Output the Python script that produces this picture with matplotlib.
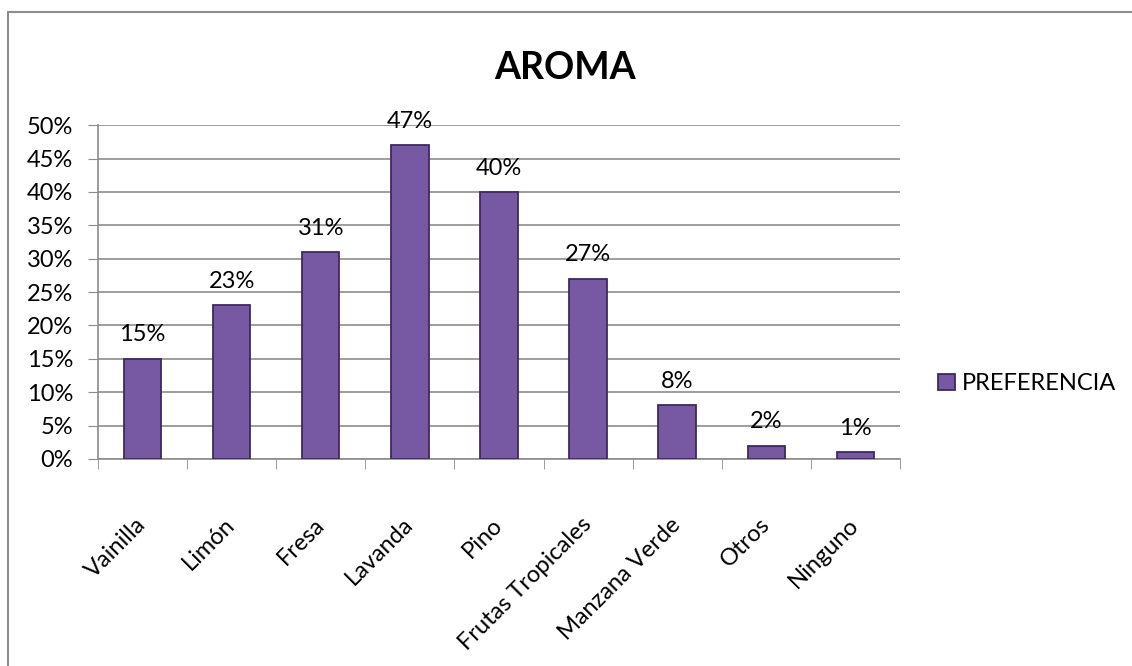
import numpy as np
from matplotlib import pyplot as plt
from matplotlib.patches import Rectangle

categories = ["Vainilla", "Limón", "Fresa", "Lavanda", "Pino",
              "Frutas Tropicales", "Manzana Verde", "Otros", "Ninguno"]
values = [15, 23, 31, 47, 40, 27, 8, 2, 1]
yticks = [0, 5, 10, 15, 20, 25, 30, 35, 40, 45, 50]

plt.rcParams['font.family'] = ['Lato', 'DejaVu Sans']

fig = plt.figure(figsize=(11.32, 6.66), dpi=100)
ax = fig.add_axes([0.0866, 0.311, 0.7084, 0.501])

x = np.arange(len(categories))
bars = ax.bar(x, values, width=0.42, color="#7758A3", edgecolor="#3E2A5E",
              linewidth=1.3, zorder=3, label="PREFERENCIA")

for xi, v in zip(x, values):
    ax.text(xi, v + 2.0, f"{v}%", ha="center", va="bottom", fontsize=17)

ax.set_xlim(-0.5, len(categories) - 0.5)
ax.set_ylim(0, 50)
ax.set_yticks(yticks)
ax.set_yticklabels([f"{t}%" for t in yticks], fontsize=17)
ax.yaxis.grid(True, color="#8c8c8c", linewidth=1.2, zorder=0)
ax.tick_params(axis="y", length=7, color="#8c8c8c", pad=11)

# rotated category labels, anchored at their right end
ax.set_xticks(x)
ax.set_xticklabels(categories, rotation=45, ha="right", va="center",
                   rotation_mode="anchor", fontsize=17)
ax.set_xticks(np.arange(len(categories) + 1) - 0.5, minor=True)
ax.tick_params(axis="x", which="major", length=0, pad=45)
ax.tick_params(axis="x", which="minor", length=7, color="#8c8c8c")

for s in ["top", "right"]:
    ax.spines[s].set_visible(False)
for s in ["left", "bottom"]:
    ax.spines[s].set_color("#8c8c8c")
    ax.spines[s].set_linewidth(1.2)

fig.text(0.499, 0.898, "AROMA", ha="center", va="center", fontsize=27, fontweight="bold")

leg = fig.legend(handles=[bars], labels=["PREFERENCIA"], loc="center left",
                 bbox_to_anchor=(0.81, 0.424), frameon=False, fontsize=17,
                 handlelength=0.7, handleheight=0.7, handletextpad=0.3)

fig.patches.append(Rectangle((0.007, -0.1), 1.2, 1.082, transform=fig.transFigure,
                             fill=False, edgecolor="#8c8c8c", linewidth=1.5))

plt.savefig("out.png", dpi=100)
